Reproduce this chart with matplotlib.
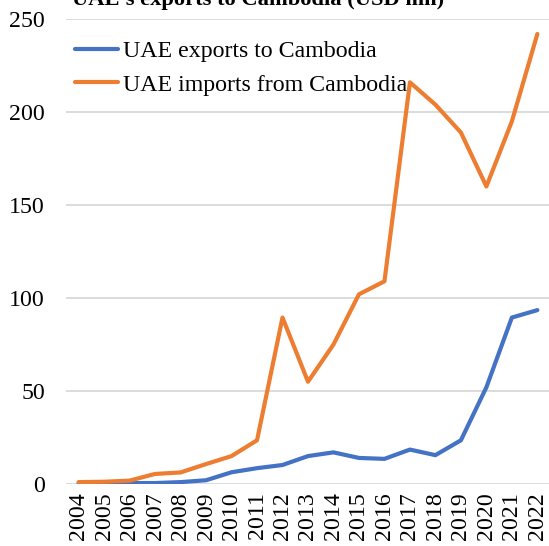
import matplotlib
matplotlib.use("Agg")
import matplotlib.pyplot as plt

years = list(range(2004, 2023))
exports = [0.5, 0.5, 0.5, 0.5, 1.0, 2.0, 6.3, 8.5, 10.2, 15.0, 17.0, 14.0, 13.5, 18.5, 15.5,
           23.5, 52.0, 89.5, 93.5]
imports = [1.0, 1.2, 1.8, 5.4, 6.2, 10.7, 15.0, 23.5, 89.5, 55.0, 75.0, 102.0, 109.0, 216.0,
           204.0, 189.0, 160.0, 195.0, 242.0]

plt.rcParams['font.family'] = ['Liberation Serif', 'DejaVu Serif']

fig = plt.figure(figsize=(5.49, 5.46), dpi=100)
ax = fig.add_axes([0.12, 0.1136, 0.882, 0.8514])

ax.plot(years, exports, color='#4472C4', lw=3.0, label='UAE exports to Cambodia', solid_capstyle='round')
ax.plot(years, imports, color='#ED7D31', lw=3.0, label='UAE imports from Cambodia', solid_capstyle='round')

ax.set_xlim(2003.5, 2022.5)
ax.set_ylim(0, 250)
ax.set_yticks([0, 50, 100, 150, 200, 250])
ax.set_xticks(years)
ax.set_xticklabels([str(y) for y in years], rotation=90)
ax.tick_params(axis='both', length=0, labelsize=17.2, colors='black')
ax.tick_params(axis='y', pad=15)
ax.tick_params(axis='x', pad=6)

ax.grid(axis='y', color='#D9D9D9', lw=1.3)
ax.set_axisbelow(True)
for s in ax.spines.values():
    s.set_visible(False)

ax.legend(loc='upper left', bbox_to_anchor=(0.0, 0.975), frameon=False, fontsize=17.2,
          handlelength=1.8, handletextpad=0.2, labelspacing=0.5, borderaxespad=0.0)

fig.text(0.47, 1.0, "UAE's exports to Cambodia (USD mn)", ha='center', va='center',
         fontsize=16.2, fontweight='bold')

fig.savefig('out.png', dpi=100)
